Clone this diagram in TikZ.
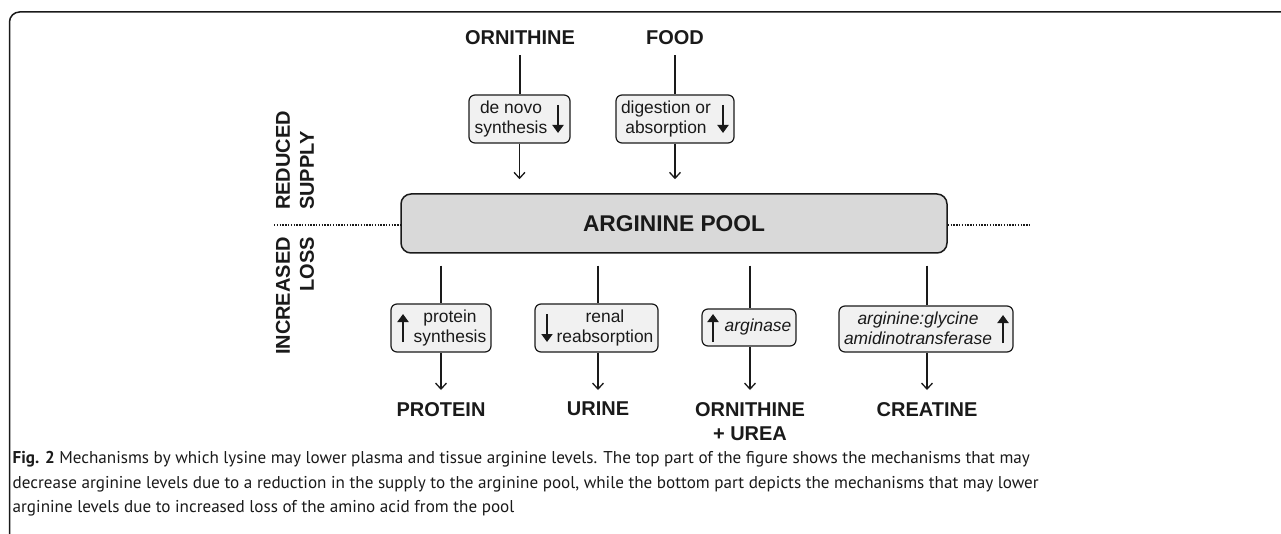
\documentclass[tikz,border=0pt]{standalone}
\usepackage{fontspec}
\setmainfont{Liberation Sans}
\newfontfamily\capfont{PT Sans}
\usetikzlibrary{arrows.meta,calc}
\definecolor{ink}{HTML}{1A1A1A}
\definecolor{poolfill}{HTML}{D9D9D9}
\definecolor{boxfill}{HTML}{F1F1F1}
\tikzset{
  lbl/.style={font=\bfseries\fontsize{20}{24}\selectfont, inner sep=0pt, text=ink},
  mech/.style={draw=ink, fill=boxfill, rounded corners=6pt, line width=1.2pt, inner sep=0pt},
  mtext/.style={font=\fontsize{17.4}{20}\selectfont, align=center, inner sep=0pt, text=ink},
  conn/.style={line width=1.3pt, draw=ink},
  flow/.style={conn, -{Straight Barb[length=6pt,width=11pt]}},
  trend/.style={line width=2pt, draw=ink, -{Triangle[length=8pt,width=11pt]}},
  sepline/.style={line width=1.6pt, draw=ink, dash pattern=on 1.4pt off 1.4pt},
}
\begin{document}
\begin{tikzpicture}[x=1pt,y=-1pt]
\useasboundingbox (0,0) rectangle (1281,534);
% frame
\draw[line width=1.5pt, draw=ink, rounded corners=10pt] (9.5,534) -- (9.5,12) -- (1281,12);

% pool
\node[draw=ink, fill=poolfill, rounded corners=10pt, line width=1.5pt,
      minimum width=546pt, minimum height=59pt, text=ink,
      font=\bfseries\fontsize{22.75}{26}\selectfont] (pool) at (674,223.5) {ARGININE POOL};
\coordinate (dl) at (274,225);
\coordinate (dr) at (1029,225);
\draw[sepline] (dl) -- (pool.west |- dl);
\draw[sepline] (pool.east |- dr) -- (dr);

% side labels
\node[lbl, rotate=90, anchor=west, align=left] (rs) at (295,210) {REDUCED\\SUPPLY};
\node[lbl, rotate=90, anchor=east, align=right] (il) at (295,237) {INCREASED\\LOSS};

% top sources
\node[lbl, anchor=base] (orn) at (520,44.5) {ORNITHINE};
\node[lbl, anchor=base] (food) at (675,44.5) {FOOD};

\node[mech, minimum width=101pt, minimum height=48pt] (b1) at (519.5,119) {};
\node[mtext] (t1) at (511,119) {de novo\\synthesis};
\draw[trend] (558,105) -- (558,133);

\node[mech, minimum width=118pt, minimum height=48pt] (b2) at (675,119) {};
\node[mtext] (t2) at (666,119) {digestion or\\absorption};
\draw[trend] (723,105) -- (723,133);

\draw[conn, shorten <=10.5pt] (orn.south) -- (orn.south |- b1.north);
\draw[conn, shorten <=10.5pt] (food.south) -- (food.south |- b2.north);
\draw[flow, shorten >=14pt] (b1.south) -- (b1.south |- pool.north);
\draw[flow, shorten >=14pt] (b2.south) -- (b2.south |- pool.north);

% bottom mechanisms
\node[mech, minimum width=100pt, minimum height=48pt] (b3) at (441,328) {};
\node[mtext] (t3) at (450,328) {protein\\synthesis};
\draw[trend] (403,342) -- (403,314);

\node[mech, minimum width=123pt, minimum height=48pt] (b4) at (596.5,328) {};
\node[mtext] (t4) at (605,328) {renal\\reabsorption};
\draw[trend] (547,314) -- (547,342);

\node[mech, minimum width=94pt, minimum height=37pt] (b5) at (749,327.5) {};
\node[mtext, font=\itshape\fontsize{17.4}{20}\selectfont] (t5) at (758,327.5) {arginase};
\draw[trend] (713,342) -- (713,314);

\node[mech, minimum width=174pt, minimum height=46pt] (b6) at (926,329) {};
\node[mtext, font=\itshape\fontsize{17.4}{20}\selectfont] (t6) at (918,328) {arginine:glycine\\amidinotransferase};
\draw[trend] (1003,343) -- (1003,315);

% products
\node[lbl, anchor=north] (prot) at (441,402) {PROTEIN};
\node[lbl, anchor=north] (uri) at (598,402) {URINE};
\node[lbl, anchor=north, align=center] (ou) at (750,402) {ORNITHINE\\+ UREA};
\node[lbl, anchor=north] (cre) at (927,402) {CREATINE};

\draw[conn, shorten <=12pt] (b3.north |- pool.south) -- (b3.north);
\draw[conn, shorten <=12pt] (uri.north |- pool.south) -- (uri.north |- b4.north);
\draw[conn, shorten <=12pt] (ou.north |- pool.south) -- (ou.north |- b5.north);
\draw[conn, shorten <=12pt] (cre.north |- pool.south) -- (cre.north |- b6.north);

\draw[flow, shorten >=12pt] (b3.south) -- (prot.north);
\draw[flow, shorten >=12pt] (uri.north |- b4.south) -- (uri.north);
\draw[flow, shorten >=12pt] (ou.north |- b5.south) -- (ou.north);
\draw[flow, shorten >=12pt] (cre.north |- b6.south) -- (cre.north);

% caption
\node[anchor=north west, inner sep=0pt, align=left, text=ink,
      font=\capfont\fontsize{17.1}{24.5}\selectfont] (cap) at (12.5,451.5)
  {\textbf{Fig. 2} Mechanisms by which lysine may lower plasma and tissue arginine levels. The top part of the figure shows the mechanisms that may\\
   decrease arginine levels due to a reduction in the supply to the arginine pool, while the bottom part depicts the mechanisms that may lower\\
   arginine levels due to increased loss of the amino acid from the pool};
\end{tikzpicture}
\end{document}
